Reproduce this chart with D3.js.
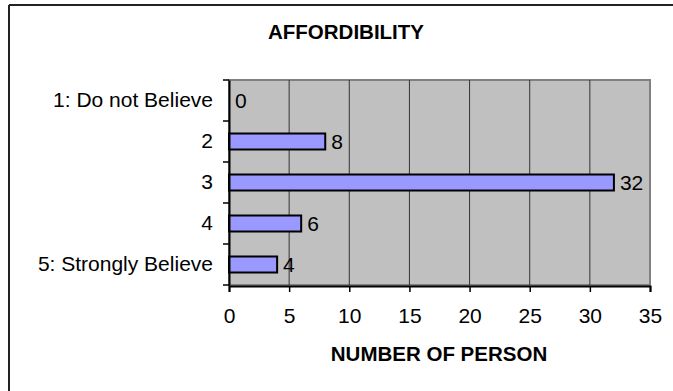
<!DOCTYPE html>
<html>
<head>
<meta charset="utf-8">
<script src="https://cdn.jsdelivr.net/npm/d3@7"></script>
<style>
  html, body { margin: 0; padding: 0; background: #fff; overflow: hidden; }
  svg { display: block; }
  text { font-family: "Liberation Sans", Arial, sans-serif; fill: #000; }
</style>
</head>
<body>
<svg id="chart" width="673" height="391"></svg>
<script>
// Survey responses: "Affordability" rating vs. number of persons
const categories = ["1: Do not Believe", "2", "3", "4", "5: Strongly Believe"];
const counts = [0, 8, 32, 6, 4];
const xTicks = [0, 5, 10, 15, 20, 25, 30, 35];
const chartTitle = "AFFORDIBILITY";
const xAxisTitle = "NUMBER OF PERSON";

const svg = d3.select("#chart");
const plot = { left: 229, right: 650, top: 80, bottom: 285 };
const fontSize = 21;
const fontFamily = "Liberation Sans, Arial, sans-serif";

// outer chart frame: only the top and left edges fall inside the page
svg.append("line")
  .attr("x1", 9).attr("x2", 673).attr("y1", 5).attr("y2", 5)
  .attr("stroke", "#222").attr("stroke-width", 2);
svg.append("line")
  .attr("x1", 9).attr("x2", 9).attr("y1", 5).attr("y2", 391)
  .attr("stroke", "#222").attr("stroke-width", 2);

const x = d3.scaleLinear().domain([0, 35]).range([plot.left, plot.right]);
const y = d3.scaleBand().domain(categories).range([plot.top, plot.bottom]).paddingInner(0).paddingOuter(0);

// plot area background
svg.append("rect")
  .attr("x", plot.left).attr("y", plot.top)
  .attr("width", plot.right - plot.left).attr("height", plot.bottom - plot.top)
  .attr("fill", "#c0c0c0")
  .attr("stroke", "#808080").attr("stroke-width", 2);

// vertical gridlines
svg.append("g")
  .selectAll("line")
  .data(xTicks.filter(d => d > 0 && d < 35))
  .join("line")
  .attr("x1", d => x(d)).attr("x2", d => x(d))
  .attr("y1", plot.top).attr("y2", plot.bottom)
  .attr("stroke", "#333").attr("stroke-width", 1);

// bars
const barH = 16;
svg.append("g")
  .selectAll("rect")
  .data(categories)
  .join("rect")
  .attr("x", x(0))
  .attr("y", d => y(d) + y.bandwidth() / 2 - barH / 2)
  .attr("width", (d, i) => x(counts[i]) - x(0))
  .attr("height", barH)
  .attr("fill", "#9999ff")
  .attr("stroke", "#000").attr("stroke-width", 2);

// value labels
svg.append("g")
  .selectAll("text")
  .data(categories)
  .join("text")
  .attr("x", (d, i) => x(counts[i]) + 6)
  .attr("y", d => y(d) + y.bandwidth() / 2)
  .attr("dy", "0.35em")
  .attr("font-size", fontSize)
  .text((d, i) => counts[i]);

// x axis
const xAxis = svg.append("g")
  .attr("transform", `translate(0,${plot.bottom + 1})`)
  .call(d3.axisBottom(x).tickValues(xTicks).tickSize(6).tickPadding(16).tickFormat(d3.format("d")));
xAxis.select(".domain").attr("stroke", "#000").attr("stroke-width", 2);
xAxis.selectAll(".tick line").attr("stroke", "#000").attr("stroke-width", 1.5);
xAxis.selectAll("text").attr("font-size", fontSize).attr("font-family", fontFamily).attr("fill", "#000");

// y axis: ticks sit on category boundaries
const yAxis = svg.append("g")
  .attr("transform", `translate(${plot.left},0)`)
  .call(d3.axisLeft(y).tickSize(0).tickPadding(16));
yAxis.select(".domain").attr("stroke", "#000").attr("stroke-width", 2);
yAxis.selectAll("text").attr("font-size", fontSize).attr("font-family", fontFamily).attr("fill", "#000");
const boundaries = categories.map(d => y(d)).concat([plot.bottom]);
yAxis.append("g")
  .selectAll("line")
  .data(boundaries)
  .join("line")
  .attr("x1", -6).attr("x2", 0)
  .attr("y1", d => d).attr("y2", d => d)
  .attr("stroke", "#000").attr("stroke-width", 1.5);

// titles
svg.append("text")
  .attr("x", 346).attr("y", 39)
  .attr("text-anchor", "middle")
  .attr("font-size", 20.5).attr("font-weight", "bold")
  .text(chartTitle);

svg.append("text")
  .attr("x", 439).attr("y", 361)
  .attr("text-anchor", "middle")
  .attr("font-size", 20.5).attr("font-weight", "bold")
  .text(xAxisTitle);
</script>
</body>
</html>
